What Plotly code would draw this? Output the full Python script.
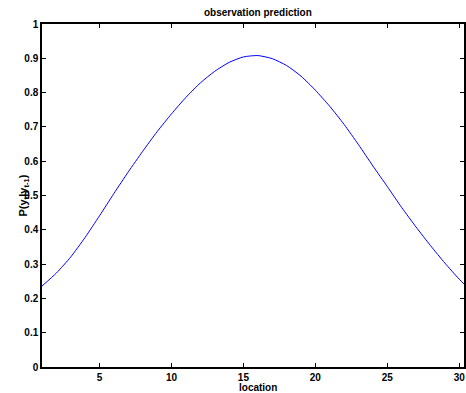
import plotly.graph_objects as go

location = list(range(1, 32))
prob = [0.236, 0.274, 0.321, 0.378, 0.441, 0.506, 0.569, 0.629, 0.686, 0.738,
        0.786, 0.828, 0.862, 0.888, 0.904, 0.908, 0.899, 0.879, 0.848, 0.807,
        0.760, 0.707, 0.648, 0.586, 0.526, 0.465, 0.408, 0.354, 0.303, 0.256, 0.215]
xticks = [5, 10, 15, 20, 25, 30]
yticks = [0, 0.1, 0.2, 0.3, 0.4, 0.5, 0.6, 0.7, 0.8, 0.9, 1]
yticklabels = ["0", "0.1", "0.2", "0.3", "0.4", "0.5", "0.6", "0.7", "0.8", "0.9", "1"]

font = dict(family="Liberation Sans, Arial, sans-serif", size=10, color="black", weight="bold")
label_font = dict(family="Liberation Sans, Arial, sans-serif", size=11, color="black", weight="bold")

fig = go.Figure()
fig.add_trace(go.Scatter(x=location, y=prob, mode="lines", line_shape="spline",
                         line=dict(color="#0000ff", width=1, smoothing=0.6), showlegend=False))

fig.update_layout(
    width=466, height=393,
    margin=dict(l=42, r=0, t=24, b=26),
    paper_bgcolor="white", plot_bgcolor="white",
    font=font,
    xaxis=dict(range=[1, 30.33], tickvals=xticks, ticks="inside", ticklen=4,
               tickcolor="black", showline=True, linecolor="black", linewidth=1.5,
               mirror="ticks", showgrid=False, zeroline=False, tickfont=font),
    yaxis=dict(range=[0, 1], tickvals=yticks, ticktext=yticklabels, ticks="inside",
               ticklen=4, tickcolor="black", showline=True, linecolor="black",
               linewidth=1.5, mirror="ticks", showgrid=False, zeroline=False,
               tickfont=font),
    annotations=[
        dict(text="observation prediction", x=16, xref="x", y=1, yref="paper",
             yanchor="bottom", yshift=4, showarrow=False, font=font),
        dict(text="location", x=16, xref="x", y=0, yref="paper",
             yanchor="top", yshift=-13, showarrow=False, font=font),
        dict(text="P(y<sub>t</sub>|y<sub>t-1</sub>)", x=0, xref="paper", xshift=-28,
             y=0.5, yref="paper", textangle=-90, showarrow=False, font=label_font),
    ],
)

fig.write_html("out.html")
